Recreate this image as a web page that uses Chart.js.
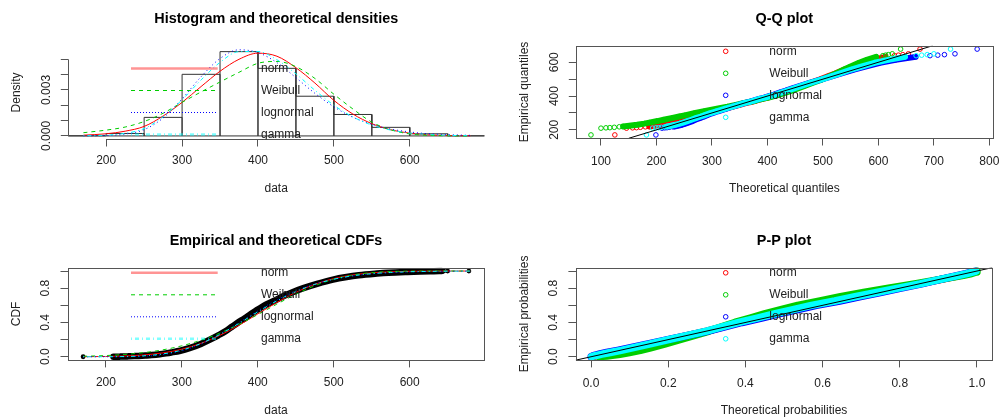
<!DOCTYPE html>
<html><head><meta charset="utf-8">
<script src="https://cdn.jsdelivr.net/npm/chart.js@4/dist/chart.umd.min.js"></script>
<style>
html,body{margin:0;padding:0;background:#fff;overflow:hidden;}
#wrap{position:relative;width:1000px;height:420px;background:#fff;}
.p{position:absolute;width:500px;height:210px;}
canvas{display:block;}
</style></head><body>
<div id="wrap">
<div class="p" style="left:0;top:0"><canvas id="c1" width="500" height="210"></canvas></div>
<div class="p" style="left:500px;top:0"><canvas id="c2" width="500" height="210"></canvas></div>
<div class="p" style="left:0;top:210px"><canvas id="c3" width="500" height="210"></canvas></div>
<div class="p" style="left:500px;top:210px"><canvas id="c4" width="500" height="210"></canvas></div>
</div>
<script>
// ---------------- DATA ----------------
const distNames = ['norm', 'Weibull', 'lognormal', 'gamma'];

// Panel 1: histogram and densities
const histBreaks = [150, 200, 250, 300, 350, 400, 450, 500, 550, 600, 650, 700];
const histDensity = [0.00001, 0.00016, 0.00121, 0.00402, 0.00550, 0.00441, 0.00259, 0.00140, 0.00056, 0.00014, 0.00001];
const densX = [170, 200, 225, 250, 275, 300, 325, 350, 375, 400, 425, 450, 475, 500, 525, 550, 575, 600, 625, 650, 680];
const densNorm = [0.00005, 0.00014, 0.00031, 0.00062, 0.00130, 0.00219, 0.00322, 0.00422, 0.00500, 0.00540, 0.00520, 0.00445, 0.00345, 0.00232, 0.00143, 0.00080, 0.00040, 0.00018, 0.00007, 0.00003, 0.00001];
const densWeibull = [0.00021, 0.00038, 0.00058, 0.00094, 0.00148, 0.00219, 0.00287, 0.00352, 0.00415, 0.00474, 0.00486, 0.00452, 0.00375, 0.00272, 0.00176, 0.00090, 0.00040, 0.00013, 0.00004, 0.00001, 0.0];
const densLnorm = [0.0, 0.00003, 0.00012, 0.00041, 0.00117, 0.00242, 0.00386, 0.00505, 0.00562, 0.00544, 0.00478, 0.00380, 0.00278, 0.00190, 0.00122, 0.00076, 0.00045, 0.00026, 0.00014, 0.00008, 0.00004];
const densGamma = [0.00001, 0.00005, 0.00017, 0.00048, 0.00125, 0.00236, 0.00365, 0.00480, 0.00550, 0.00551, 0.00497, 0.00405, 0.00298, 0.00200, 0.00124, 0.00071, 0.00038, 0.00019, 0.00009, 0.00004, 0.00001];
const p1XTicks = [200, 300, 400, 500, 600];
const p1XLabels = ['200', '300', '400', '500', '600'];
const p1YTicks = [0, 0.001, 0.002, 0.003, 0.004, 0.005];
const p1YLabels = ['0.000', '', '', '0.003', '', ''];

// Panel 2: Q-Q plot (empirical quantiles vs theoretical quantiles)
const qqEmp = [170, 210, 212, 213, 215, 218, 220, 224, 230, 237, 243, 252, 260, 271, 279, 286, 298, 310, 325, 337, 348, 358, 366, 374, 383, 391, 400, 409, 421, 432, 445, 460, 478, 499, 517, 533, 557, 572, 597, 614, 632, 639, 642, 645, 650, 678];
const qqNorm = [125, 146, 157, 164, 171, 180, 187, 197, 209, 220, 228, 239, 248, 261, 270, 278, 291, 305, 323, 338, 350, 361, 372, 381, 391, 400, 409, 419, 429, 439, 450, 462, 477, 495, 509, 522, 539, 552, 572, 591, 613, 629, 636, 644, 654, 675];
const qqWeibull = [82, 100, 109, 116, 124, 133, 140, 151, 165, 178, 187, 202, 213, 229, 241, 251, 268, 286, 309, 328, 343, 356, 369, 380, 391, 402, 412, 422, 433, 444, 455, 467, 481, 499, 512, 523, 538, 548, 565, 579, 596, 608, 613, 618, 625, 640];
const qqLnorm = [199, 210, 215, 219, 223, 229, 232, 238, 246, 252, 257, 265, 270, 279, 286, 291, 300, 311, 326, 337, 348, 358, 367, 376, 385, 394, 403, 412, 422, 433, 445, 459, 476, 498, 516, 532, 556, 573, 603, 631, 667, 693, 707, 719, 738, 778];
const qqGamma = [182, 193, 199, 204, 209, 215, 219, 226, 234, 242, 248, 256, 263, 272, 280, 286, 296, 308, 324, 337, 348, 358, 368, 377, 386, 396, 405, 415, 425, 436, 448, 461, 477, 498, 515, 530, 551, 567, 593, 618, 648, 668, 678, 688, 700, 730];
const qqRef = [150, 698];
const p2XTicks = [100, 200, 300, 400, 500, 600, 700, 800];
const p2XLabels = ['100', '200', '300', '400', '500', '600', '700', '800'];
const p2YTicks = [200, 300, 400, 500, 600];
const p2YLabels = ['200', '', '400', '', '600'];

// Panel 3: empirical and theoretical CDFs
const ecdfProb = [0.0001, 0.0003, 0.0005, 0.0007, 0.001, 0.0015, 0.002, 0.003, 0.005, 0.0075, 0.01, 0.015, 0.02, 0.03, 0.04, 0.05, 0.07, 0.1, 0.15, 0.2, 0.25, 0.3, 0.35, 0.4, 0.45, 0.5, 0.55, 0.6, 0.65, 0.7, 0.75, 0.8, 0.85, 0.9, 0.93, 0.95, 0.97, 0.98, 0.99, 0.995, 0.998, 0.999, 0.9993, 0.9995, 0.9997, 0.9999];
const cdfNorm = [0.0009, 0.0034, 0.0090, 0.0212, 0.0455, 0.0883, 0.1554, 0.2494, 0.3669, 0.5, 0.6331, 0.7506, 0.8446, 0.9117, 0.9545, 0.9788, 0.991, 0.9966, 0.9988, 0.9996, 0.9999];
const cdfWeibull = [0.0058, 0.0143, 0.0273, 0.0484, 0.0809, 0.1279, 0.1923, 0.2757, 0.3771, 0.4921, 0.6130, 0.7286, 0.8282, 0.904, 0.9537, 0.9813, 0.9939, 0.9984, 0.9997, 1.0, 1.0];
const cdfLnorm = [0.0, 0.0001, 0.0011, 0.0067, 0.0253, 0.0694, 0.1483, 0.2614, 0.3964, 0.5359, 0.663, 0.7681, 0.848, 0.9045, 0.9423, 0.9662, 0.9808, 0.9894, 0.9942, 0.9969, 0.9986];
const cdfGamma = [0.0, 0.0005, 0.0029, 0.0112, 0.033, 0.0781, 0.1536, 0.2598, 0.3882, 0.5235, 0.651, 0.7596, 0.8442, 0.9042, 0.9443, 0.9692, 0.9837, 0.9917, 0.996, 0.9981, 0.9993];
const p3XTicks = [200, 300, 400, 500, 600];
const p3XLabels = ['200', '300', '400', '500', '600'];
const probTicks = [0, 0.2, 0.4, 0.6, 0.8, 1.0];
const probYLabels = ['0.0', '', '0.4', '', '0.8', ''];

// Panel 4: P-P plot
const ppProb = [0.0001, 0.001, 0.005, 0.01, 0.02, 0.03, 0.05, 0.075, 0.1, 0.15, 0.2, 0.25, 0.3, 0.35, 0.4, 0.45, 0.5, 0.55, 0.6, 0.65, 0.7, 0.75, 0.8, 0.85, 0.9, 0.95, 0.97, 0.99, 0.999, 0.9999];
const ppNorm = [0.0009, 0.004, 0.008, 0.012, 0.022, 0.033, 0.055, 0.083, 0.108, 0.157, 0.204, 0.252, 0.300, 0.342, 0.380, 0.425, 0.465, 0.512, 0.558, 0.615, 0.668, 0.726, 0.786, 0.850, 0.905, 0.957, 0.977, 0.993, 0.998, 0.9995];
const ppWeibull = [0.0058, 0.0212, 0.0308, 0.0415, 0.0599, 0.0748, 0.0996, 0.1279, 0.1515, 0.1923, 0.23, 0.2682, 0.306, 0.3385, 0.3727, 0.4126, 0.4495, 0.4921, 0.5356, 0.5935, 0.6464, 0.7064, 0.771, 0.8386, 0.9015, 0.9647, 0.986, 0.9981, 0.9999, 1.0];
const ppLnorm = [0.0, 0.0005, 0.0017, 0.0043, 0.0118, 0.0209, 0.0408, 0.0694, 0.0966, 0.1483, 0.199, 0.2514, 0.303, 0.3464, 0.391, 0.4414, 0.4864, 0.5359, 0.5837, 0.644, 0.695, 0.749, 0.803, 0.856, 0.9027, 0.9512, 0.9711, 0.9886, 0.9959, 0.9985];
const ppGamma = [0.0, 0.0015, 0.0038, 0.008, 0.0178, 0.0283, 0.0495, 0.0781, 0.1042, 0.1536, 0.201, 0.2502, 0.299, 0.3394, 0.383, 0.4305, 0.475, 0.5235, 0.5714, 0.6316, 0.684, 0.740, 0.796, 0.8524, 0.9025, 0.9536, 0.974, 0.991, 0.9974, 0.9992];
const ppRef = [-0.04, 1.04];
const p4XLabels = ['0.0', '0.2', '0.4', '0.6', '0.8', '1.0'];

// ---------------- STYLE ----------------
const FONT = "'Liberation Sans', Arial, Helvetica, sans-serif";
const COLS = ['#FF0000', '#00CD00', '#0000FF', '#00FFFF'];
const DASH = [[], [4, 4], [1, 3], [1, 3, 4, 3]];
const AXC = '#555';
const TXT = '#222';
const W = 500, H = 210;
Chart.defaults.font.family = FONT;
Chart.defaults.font.size = 12;
Chart.defaults.color = TXT;
Chart.defaults.animation = false;

function xy(xs, ys, from, to) {
  const out = [];
  const a = from === undefined ? 0 : from, b = to === undefined ? xs.length - 1 : to;
  for (let i = a; i <= b; i++) out.push({x: xs[i], y: ys[i]});
  return out;
}
function histPath(br, d) {
  const out = [];
  for (let i = 0; i < d.length; i++) {
    out.push({x: br[i], y: 0}, {x: br[i], y: d[i]}, {x: br[i + 1], y: d[i]}, {x: br[i + 1], y: 0});
  }
  out.push({x: br[0], y: 0});
  return out;
}
function xScale(o) {
  return {
    type: 'linear', position: 'bottom', min: o.min, max: o.max,
    afterBuildTicks: s => { s.ticks = o.ticks.map(v => ({value: v})); },
    ticks: { autoSkip: false, minRotation: 0, maxRotation: 0, padding: o.pad, color: TXT,
             font: {size: 12}, callback: (v, i) => o.labels[i] },
    grid: { display: true, drawOnChartArea: false, drawTicks: true, tickLength: 7.2, color: AXC, lineWidth: 1 },
    border: { display: false },
    title: { display: true, text: o.title, color: TXT, font: {size: 12}, padding: {top: 0, bottom: o.titlePad} },
    afterFit: s => { s.height = H - o.box.bottom; s.paddingLeft = s.paddingRight = s.paddingTop = s.paddingBottom = 0; }
  };
}
function yScale(o) {
  return {
    type: 'linear', position: 'left', min: o.min, max: o.max,
    afterBuildTicks: s => { s.ticks = o.ticks.map(v => ({value: v})); },
    ticks: { autoSkip: false, minRotation: 90, maxRotation: 90, crossAlign: 'center', padding: o.pad, color: TXT,
             font: {size: 12}, callback: (v, i) => o.labels[i] },
    grid: { display: true, drawOnChartArea: false, drawTicks: true, tickLength: 7.2, color: AXC, lineWidth: 1 },
    border: { display: false },
    title: { display: true, text: o.title, color: TXT, font: {size: 12}, padding: {top: o.titlePad, bottom: 0} },
    afterFit: s => { s.width = o.box.left; s.paddingLeft = s.paddingRight = s.paddingTop = s.paddingBottom = 0; }
  };
}
function rPlugin(id, cfg) {
  return {
    id: id,
    afterDraw(chart) {
      const ctx = chart.ctx, a = chart.chartArea, xs = chart.scales.x, ys = chart.scales.y;
      ctx.save();
      ctx.strokeStyle = AXC; ctx.lineWidth = 1; ctx.setLineDash([]);
      const L = Math.round(a.left) + 0.5, T = Math.round(a.top) + 0.5, R = Math.round(a.right) + 0.5, B = Math.round(a.bottom) + 0.5;
      if (cfg.box) {
        ctx.strokeRect(L, T, R - L, B - T);
      } else {
        ctx.beginPath();
        ctx.moveTo(xs.getPixelForValue(cfg.xTicks[0]), B);
        ctx.lineTo(xs.getPixelForValue(cfg.xTicks[cfg.xTicks.length - 1]), B);
        ctx.moveTo(L, ys.getPixelForValue(cfg.yTicks[0]));
        ctx.lineTo(L, ys.getPixelForValue(cfg.yTicks[cfg.yTicks.length - 1]));
        ctx.stroke();
      }
      ctx.fillStyle = '#000';
      ctx.font = 'bold 14.4px ' + FONT;
      ctx.textAlign = 'center'; ctx.textBaseline = 'alphabetic';
      ctx.fillText(cfg.title, (a.left + a.right) / 2, cfg.titleY);
      // legend
      ctx.save();
      ctx.beginPath(); ctx.rect(a.left, a.top, a.right - a.left, a.bottom - a.top); ctx.clip();
      const lg = cfg.legend;
      distNames.forEach((name, i) => {
        const y = lg.y0 + i * lg.dy;
        ctx.beginPath();
        if (lg.kind === 'line') {
          const st = lg.styles[i];
          ctx.setLineDash(st.dash); ctx.strokeStyle = st.color; ctx.lineWidth = st.width;
          ctx.moveTo(lg.x1, y); ctx.lineTo(lg.x2, y); ctx.stroke();
          ctx.setLineDash([]);
        } else {
          ctx.strokeStyle = COLS[i]; ctx.lineWidth = 1;
          ctx.arc(lg.px, y, 2.3, 0, Math.PI * 2); ctx.stroke();
        }
        ctx.fillStyle = TXT; ctx.font = '12px ' + FONT;
        ctx.textAlign = 'left'; ctx.textBaseline = 'middle';
        ctx.fillText(name, lg.tx, y);
      });
      ctx.restore();
      ctx.restore();
    }
  };
}
function withOrder(ds) { ds.forEach((d, i) => { d.order = ds.length - i; }); return ds; }
function baseOptions(box, scales) {
  return {
    responsive: false, animation: false, events: [], devicePixelRatio: 1,
    layout: { padding: { left: 0, top: box.top, right: W - box.right, bottom: 0 } },
    plugins: { legend: { display: false }, title: { display: false }, tooltip: { enabled: false } },
    scales: scales
  };
}
const lineLegendStyles = [
  { color: 'rgba(255,0,0,0.42)', width: 2.4, dash: [] },
  { color: '#00CD00', width: 1, dash: [4, 4] },
  { color: '#0000FF', width: 1, dash: [1, 2] },
  { color: 'rgba(0,255,255,0.5)', width: 2.4, dash: [1, 3, 4, 3] }
];
function curve(xs, ys, i) {
  return { data: xy(xs, ys), borderColor: COLS[i], borderWidth: 1, borderDash: DASH[i], pointRadius: 0,
           fill: false, cubicInterpolationMode: 'monotone' };
}
function qqCore(xs, ys, i, a, b, w) {
  return { data: xy(xs, ys, a, b), borderColor: COLS[i], borderWidth: w, pointRadius: 0, fill: false,
           borderCapStyle: 'round', borderJoinStyle: 'round', tension: 0 };
}
function qqPts(xs, ys, i) {
  return { data: xy(xs, ys), showLine: false, borderColor: COLS[i], pointRadius: 2.3, pointBorderWidth: 1,
           pointBorderColor: COLS[i], pointBackgroundColor: 'rgba(0,0,0,0)', pointStyle: 'circle' };
}

// ---------------- PANEL 1 ----------------
(function () {
  const box = { left: 68, top: 45.5, right: 484.4, bottom: 139.3 };
  const ds = withOrder([
    { data: histPath(histBreaks, histDensity), borderColor: '#333', borderWidth: 1, pointRadius: 0, fill: false, tension: 0 },
    curve(densX, densNorm, 0), curve(densX, densWeibull, 1), curve(densX, densLnorm, 2), curve(densX, densGamma, 3)
  ]);
  new Chart(document.getElementById('c1'), {
    type: 'line', data: { datasets: ds },
    options: baseOptions(box, {
      x: xScale({ min: 149.7, max: 698.3, ticks: p1XTicks, labels: p1XLabels, pad: 7.3, title: 'data', titlePad: 13.8, box }),
      y: yScale({ min: -0.00022, max: 0.0059, ticks: p1YTicks, labels: p1YLabels, pad: -0.6, title: 'Density', titlePad: 9.8, box })
    }),
    plugins: [rPlugin('r1', { box: false, xTicks: p1XTicks, yTicks: p1YTicks, title: 'Histogram and theoretical densities', titleY: 23.2,
      legend: { kind: 'line', x1: 131, x2: 217.7, tx: 261, y0: 68.5, dy: 22, styles: lineLegendStyles } })]
  });
})();

// ---------------- PANEL 2 ----------------
(function () {
  const box = { left: 76, top: 45.7, right: 492.7, bottom: 138.3 };
  const th = [qqNorm, qqWeibull, qqLnorm, qqGamma];
  const list = [];
  th.forEach((t, i) => { list.push(qqCore(t, qqEmp, i, 6, 40, 6)); list.push(qqPts(t, qqEmp, i)); });
  list.push({ data: xy(qqRef, qqRef), borderColor: '#000', borderWidth: 1, pointRadius: 0, fill: false });
  new Chart(document.getElementById('c2'), {
    type: 'line', data: { datasets: withOrder(list) },
    options: baseOptions(box, {
      x: xScale({ min: 55, max: 806, ticks: p2XTicks, labels: p2XLabels, pad: 8.5, title: 'Theoretical quantiles', titlePad: 14.1, box }),
      y: yScale({ min: 150, max: 698, ticks: p2YTicks, labels: p2YLabels, pad: 4.4, title: 'Empirical quantiles', titlePad: 17.8, box })
    }),
    plugins: [rPlugin('r2', { box: true, title: 'Q-Q plot', titleY: 23.2,
      legend: { kind: 'point', px: 225.7, tx: 269.3, y0: 51.3, dy: 22 } })]
  });
})();

// ---------------- PANEL 3 ----------------
(function () {
  const box = { left: 67.7, top: 57.6, right: 484.3, bottom: 150.2 };
  const ds = withOrder([
    { data: xy(qqEmp, ecdfProb, 1, 42), borderColor: '#000', borderWidth: 6.5, pointRadius: 0, fill: false,
      borderCapStyle: 'round', borderJoinStyle: 'round', cubicInterpolationMode: 'monotone' },
    { data: xy(qqEmp, ecdfProb), showLine: false, borderColor: '#000', pointRadius: 2.4, pointBorderWidth: 0,
      pointBackgroundColor: '#000', pointBorderColor: '#000' },
    curve(densX, cdfNorm, 0), curve(densX, cdfWeibull, 1), curve(densX, cdfLnorm, 2), curve(densX, cdfGamma, 3)
  ]);
  new Chart(document.getElementById('c3'), {
    type: 'line', data: { datasets: ds },
    options: baseOptions(box, {
      x: xScale({ min: 149.7, max: 698.3, ticks: p3XTicks, labels: p3XLabels, pad: 8.4, title: 'data', titlePad: 2.6, box }),
      y: yScale({ min: -0.04, max: 1.04, ticks: probTicks, labels: probYLabels, pad: 6.1, title: 'CDF', titlePad: 9.5, box })
    }),
    plugins: [rPlugin('r3', { box: true, title: 'Empirical and theoretical CDFs', titleY: 35,
      legend: { kind: 'line', x1: 131, x2: 217.7, tx: 261, y0: 62.8, dy: 22, styles: lineLegendStyles } })]
  });
})();

// ---------------- PANEL 4 ----------------
(function () {
  const box = { left: 75.6, top: 57.6, right: 492.4, bottom: 150.2 };
  const th = [ppNorm, ppWeibull, ppLnorm, ppGamma];
  const list = [];
  th.forEach((t, i) => { list.push(qqCore(t, ppProb, i, 1, 28, 7.5)); list.push(qqPts(t, ppProb, i)); });
  list.push({ data: xy(ppRef, ppRef), borderColor: '#000', borderWidth: 1, pointRadius: 0, fill: false });
  new Chart(document.getElementById('c4'), {
    type: 'line', data: { datasets: withOrder(list) },
    options: baseOptions(box, {
      x: xScale({ min: -0.04, max: 1.04, ticks: probTicks, labels: p4XLabels, pad: 8.9, title: 'Theoretical probabilities', titlePad: 2.0, box }),
      y: yScale({ min: -0.04, max: 1.04, ticks: probTicks, labels: probYLabels, pad: 6.1, title: 'Empirical probabilities', titlePad: 17.4, box })
    }),
    plugins: [rPlugin('r4', { box: true, title: 'P-P plot', titleY: 35,
      legend: { kind: 'point', px: 225.7, tx: 269.3, y0: 62.8, dy: 22 } })]
  });
})();
</script>
</body></html>
